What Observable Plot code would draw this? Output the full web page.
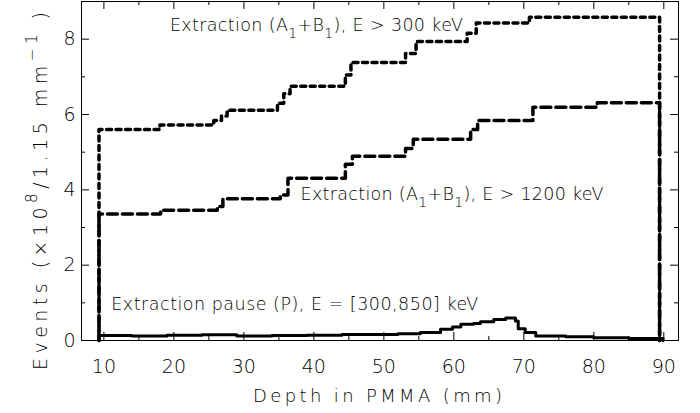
<!DOCTYPE html>
<html>
<head>
<meta charset="utf-8">
<script src="https://cdn.jsdelivr.net/npm/d3@7"></script>
<script src="https://cdn.jsdelivr.net/npm/@observablehq/plot@0.6"></script>
<style>
  html, body { margin: 0; padding: 0; background: #fff; }
  #chart svg { display: block; }
  #chart svg text { font-weight: 200; }
</style>
</head>
<body>
<div id="chart"></div>
<script>
// Depth histograms along the PMMA target; each x is where the level y begins (step-after).
const above300X = [9.3, 9.3, 18.0, 25.7, 26.8, 27.6, 34.8, 35.7, 36.6, 44.5, 45.3, 53.1, 54.6, 61.9, 63.2, 70.8, 89.4];
const above300Y = [0, 5.60, 5.72, 5.84, 5.96, 6.11, 6.30, 6.55, 6.75, 7.05, 7.38, 7.62, 7.94, 8.16, 8.43, 8.58, 0];

const above1200X = [9.3, 9.3, 18.1, 26.2, 27.0, 35.2, 36.3, 44.5, 45.5, 53.1, 54.2, 62.4, 63.4, 71.3, 80.5, 89.4];
const above1200Y = [0, 3.36, 3.46, 3.56, 3.76, 3.86, 4.31, 4.68, 4.89, 5.10, 5.34, 5.60, 5.84, 6.19, 6.31, 0];

const pauseX = [9.3, 9.3, 14, 19, 24, 29, 34, 39, 44, 49.5, 52, 55.2, 58.1, 59.8, 61.0, 62.8, 63.8, 65.7, 67.4, 68.8, 69.2, 70.2, 71.7, 76, 80, 85, 89.9];
const pauseY = [0, 0.13, 0.12, 0.14, 0.15, 0.12, 0.13, 0.14, 0.16, 0.16, 0.18, 0.21, 0.30, 0.36, 0.43, 0.45, 0.50, 0.56, 0.60, 0.52, 0.31, 0.21, 0.12, 0.10, 0.07, 0.05, 0];

// Curve annotations (_{..} subscript, ^{..} superscript)
const labelText = [
  "Extraction (A_{1}+B_{1}), E > 300 keV",
  "Extraction (A_{1}+B_{1}), E > 1200 keV",
  "Extraction pause (P), E = [300,850] keV"
];
const labelX = [19.43, 38.1, 11.06];
const labelY = [8.37, 3.87, 0.96];

// Axis ticks and titles
const xMajor = [10, 20, 30, 40, 50, 60, 70, 80, 90];
const xMinor = [15, 25, 35, 45, 55, 65, 75, 85];
const yMajor = [0, 2, 4, 6, 8];
const yMinor = [1, 3, 5, 7];
const xTitle = "Depth in PMMA (mm)";
const yTitle = "Events (×10^{8}/1.15 mm^{−1} )";

// Layout
const W = 700, H = 413;
const mL = 81, mR = 22, mT = 1, mB = 73;
const pw = W - mL - mR, ph = H - mT - mB;
const FONT = "DejaVu Sans";
const labelWidths = [293, 303, 367];

const rows = (xs, ys) => xs.map((x, i) => ({x, y: ys[i]}));
const labels = labelText.map((t, i) => ({text: t, x: labelX[i], y: labelY[i], w: labelWidths[i]}));

const svg = Plot.plot({
  width: W,
  height: H,
  marginLeft: mL,
  marginRight: mR,
  marginTop: mT,
  marginBottom: mB,
  x: {domain: [6.8, 92.1]},
  y: {domain: [0, 9]},
  style: {fontFamily: FONT, color: "black", background: "white"},
  marks: [
    Plot.frame({stroke: "black", strokeWidth: 1}),
    // inward ticks on all four sides
    Plot.tickX(xMajor, {insetTop: ph - 8, stroke: "black"}),
    Plot.tickX(xMajor, {insetBottom: ph - 8, stroke: "black"}),
    Plot.tickX(xMinor, {insetTop: ph - 4, stroke: "black"}),
    Plot.tickX(xMinor, {insetBottom: ph - 4, stroke: "black"}),
    Plot.tickY(yMajor, {insetRight: pw - 8, stroke: "black"}),
    Plot.tickY(yMajor, {insetLeft: pw - 8, stroke: "black"}),
    Plot.tickY(yMinor, {insetRight: pw - 4, stroke: "black"}),
    Plot.tickY(yMinor, {insetLeft: pw - 4, stroke: "black"}),
    Plot.axisX({ticks: xMajor, tickSize: 0, tickPadding: 19, fontSize: 19, label: null}),
    Plot.axisY({ticks: yMajor, tickSize: 0, tickPadding: 6, fontSize: 19, label: null}),
    Plot.line(rows(pauseX, pauseY), {x: "x", y: "y", curve: "step-after", stroke: "black", strokeWidth: 3}),
    Plot.line(rows(above1200X, above1200Y), {x: "x", y: "y", curve: "step-after", stroke: "black", strokeWidth: 3.5, strokeDasharray: "10 5"}),
    Plot.line(rows(above300X, above300Y), {x: "x", y: "y", curve: "step-after", stroke: "black", strokeWidth: 3.5, strokeDasharray: "5 4.5"}),
    Plot.text(labels, {x: "x", y: "y", text: "text", textAnchor: "start", lineAnchor: "middle", fontSize: 17.5, fill: "black"})
  ]
});

const NS = "http://www.w3.org/2000/svg";

// Rewrite a text element so _{..} and ^{..} become shifted, smaller tspans
function richText(el, str, subShift, supShift) {
  el.textContent = "";
  const re = /([_^])\{([^}]*)\}/g;
  let last = 0, cur = 0, m;
  const add = (txt, target, small) => {
    if (!txt) return;
    const t = document.createElementNS(NS, "tspan");
    t.textContent = txt;
    const dy = target - cur;
    if (dy !== 0) t.setAttribute("dy", dy);
    if (small) t.setAttribute("font-size", "0.8em");
    cur = target;
    el.appendChild(t);
  };
  while ((m = re.exec(str))) {
    add(str.slice(last, m.index), 0, false);
    add(m[2], m[1] === "_" ? subShift : -supShift, true);
    last = re.lastIndex;
  }
  add(str.slice(last), 0, false);
}

d3.select(svg).selectAll('g[aria-label="text"] text').each(function(i) {
  const d = labels[i];
  richText(this, d.text, 7, 8);
  this.setAttribute("textLength", d.w);
  this.setAttribute("lengthAdjust", "spacing");
});

// Axis titles
const root = d3.select(svg);
root.append("text")
  .attr("x", 377.5)
  .attr("y", 401.5)
  .attr("text-anchor", "middle")
  .attr("font-family", FONT)
  .attr("font-size", 18)
  .attr("fill", "black")
  .attr("textLength", 249)
  .attr("lengthAdjust", "spacing")
  .text(xTitle);

const yt = root.append("text")
  .attr("transform", "translate(47,191) rotate(-90)")
  .attr("text-anchor", "middle")
  .attr("font-family", FONT)
  .attr("font-size", 19)
  .attr("fill", "black")
  .attr("textLength", 358)
  .attr("lengthAdjust", "spacing");
richText(yt.node(), yTitle, 7, 10);

document.getElementById("chart").appendChild(svg);
</script>
</body>
</html>
